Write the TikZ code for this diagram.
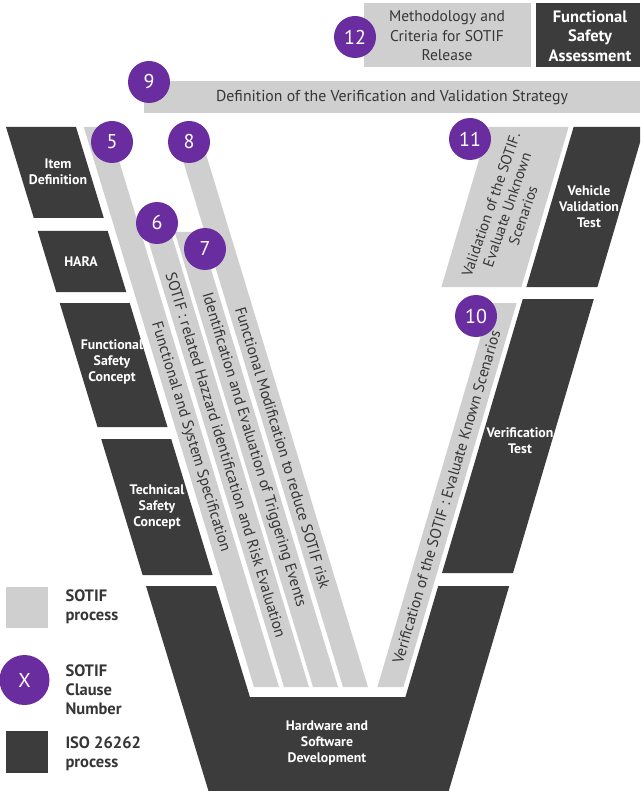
\documentclass[tikz,border=0pt]{standalone}
\usepackage{fontspec}
\setmainfont{PT Sans}
\definecolor{isogray}{HTML}{3C3C3C}
\definecolor{sotifgray}{HTML}{CFCFCF}
\definecolor{clause}{RGB}{106,45,160}
\definecolor{inktext}{HTML}{363636}

\tikzset{
  isoblock/.style={fill=isogray, draw=none},
  sotifblock/.style={fill=sotifgray, draw=none},
  clausenum/.style={circle, fill=clause, draw=none, minimum size=42pt, inner sep=0pt,
    text=white, font=\fontsize{20}{20}\selectfont},
  isolabel/.style={text=white, align=center, font=\bfseries\fontsize{13.8}{16}\selectfont},
  sotiflabel/.style={text=inktext, align=center, font=\fontsize{15.5}{17}\selectfont},
  legendlabel/.style={text=inktext, align=left, anchor=west, font=\bfseries\fontsize{16.5}{19}\selectfont},
}

\begin{document}
\begin{tikzpicture}[x=1pt,y=-1pt]
\useasboundingbox (0,0) rectangle (640,791);
\clip (0,0) rectangle (640,791);

% ---- ISO 26262 blocks, left arm of the V ----
\fill[isoblock] (6,127) -- (76,127) -- (103.8,218) -- (33.8,218) -- cycle;
\fill[isoblock] (37.7,231) -- (107.7,231) -- (126.3,292) -- (56.3,292) -- cycle;
\fill[isoblock] (59.7,303) -- (129.7,303) -- (167.5,427) -- (97.5,427) -- cycle;
\fill[isoblock] (101.2,439) -- (171.2,439) -- (212.6,575) -- (142.6,575) -- cycle;
% bottom of the V
\fill[isoblock] (146,586) -- (216,586) -- (249.9,697) -- (405.4,697) -- (438.2,586)
  -- (509.2,586) -- (448.7,791) -- (208.5,791) -- cycle;
% right arm
\fill[isoblock] (522.8,299) -- (593.8,299) -- (513,573) -- (442,573) -- cycle;
\fill[isoblock] (573.6,127) -- (644.6,127) -- (597.4,287) -- (526.4,287) -- cycle;

% ---- SOTIF strips ----
\fill[sotifblock] (83.8,127) -- (108.8,127) -- (279,687) -- (254,687) -- cycle;
\fill[sotifblock] (145.7,232) -- (170.7,232) -- (309,687) -- (284,687) -- cycle;
\fill[sotifblock] (174.7,232) -- (199.7,232) -- (338,687) -- (313,687) -- cycle;
\fill[sotifblock] (174.3,132) -- (199.3,132) -- (368,687) -- (343,687) -- cycle;
\fill[sotifblock] (490.65,303) -- (516.65,303) -- (403.4,687) -- (377.4,687) -- cycle;
\fill[sotifblock] (488.6,127) -- (568.6,127) -- (521.4,287) -- (441.4,287) -- cycle;
% top bar and release box
\fill[sotifblock] (144,81) rectangle (640,113);
\fill[sotifblock] (364,3) rectangle (531,67);
\fill[isoblock] (536,3) rectangle (640,67);

% ---- ISO labels ----
\node[isolabel] (itemdef) at (58,172) {Item\\Definition};
\node[isolabel] (hara) at (81,262) {HARA};
\node[isolabel] (fsc) at (112,362) {Functional\\Safety\\Concept};
\node[isolabel] (tsc) at (157,507) {Technical\\Safety\\Concept};
\node[isolabel] (hwsw) at (327,743) {Hardware and\\Software\\Development};
\node[isolabel] (vtest) at (520,441) {Verification\\Test};
\node[isolabel] (vvtest) at (589,207) {Vehicle\\Validation\\Test};
\node[isolabel, font=\bfseries\fontsize{16.5}{19.5}\selectfont] (fsa) at (590,36) {Functional\\Safety\\Assessment};

% ---- SOTIF labels ----
\node[sotiflabel, rotate=-73.1] (spec) at (190.5,437) {Functional and System Specification};
\node[sotiflabel, rotate=-73.1] (hazard) at (226,455) {SOTIF : related Hazzard identification and Risk Evaluation};
\node[sotiflabel, rotate=-73.1] (trigger) at (253.5,450) {Identification and Evaluation of Triggering Events};
\node[sotiflabel, rotate=-73.1] (modif) at (282.8,448) {Functional Modification to reduce SOTIF risk};
\node[sotiflabel, rotate=73.55] (known) at (446.4,497) {Verification of the SOTIF : Evaluate Known Scenarios};
\node[sotiflabel, rotate=71, font=\fontsize{15}{17}\selectfont] (unknown) at (507,210) {Validation of the SOTIF.\\Evaluate Unknown\\Scenarios};
\node[sotiflabel, font=\fontsize{15.8}{17}\selectfont] (strategy) at (392,98) {Definition of the Verification and Validation Strategy};
\node[sotiflabel, font=\fontsize{15.5}{19.5}\selectfont] (release) at (447,36) {Methodology and\\Criteria for SOTIF\\Release};

% ---- clause numbers ----
\node[clausenum] (c5) at (112,142) {5};
\node[clausenum] (c8) at (189,142) {8};
\node[clausenum] (c6) at (157,223) {6};
\node[clausenum] (c7) at (205,249) {7};
\node[clausenum] (c9) at (149,82) {9};
\node[clausenum] (c12) at (355,37) {12};
\node[clausenum] (c11) at (470,139) {11};
\node[clausenum] (c10) at (476,316) {10};

% ---- legend ----
\fill[sotifblock] (6,587) rectangle (48,628);
\node[legendlabel] (lgsotif) at (62,607) {SOTIF\\process};
\node[clausenum, minimum size=50pt] (lgclause) at (24.5,680) {X};
\node[legendlabel] (lgclausetxt) at (62,690) {SOTIF\\Clause\\Number};
\fill[isoblock] (6,731) rectangle (48,773);
\node[legendlabel] (lgiso) at (62,754) {ISO 26262\\process};
\end{tikzpicture}
\end{document}
